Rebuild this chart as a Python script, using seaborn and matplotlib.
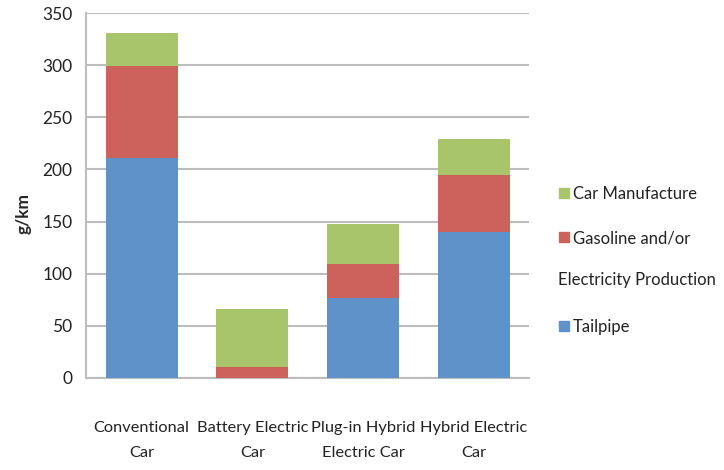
import pandas as pd
import seaborn as sns
import matplotlib.pyplot as plt
from matplotlib.patches import Patch

# data (g/km)
cars = ['Conventional\nCar', 'Battery Electric\nCar', 'Plug-in Hybrid\nElectric Car', 'Hybrid Electric\nCar']
tailpipe = [211, 0, 77, 140]
production = [88, 10, 32, 55]
manufacture = [32, 56, 39, 34]

df = pd.DataFrame({'Car': cars, 'Tailpipe': tailpipe,
                   'Production': production, 'Manufacture': manufacture})
df['lvl1'] = df['Tailpipe']
df['lvl2'] = df['lvl1'] + df['Production']
df['lvl3'] = df['lvl2'] + df['Manufacture']

blue = '#5E92C9'
red = '#CD615B'
green = '#A9C56B'

sns.set_style('white')
plt.rcParams['font.family'] = ['Lato', 'DejaVu Sans']

fig = plt.figure(figsize=(7.24, 4.70), dpi=100)
ax = fig.add_axes([0.119, 0.196, 0.612, 0.776])

# stacked bars: draw cumulative totals from the top down
for col, c in [('lvl3', green), ('lvl2', red), ('lvl1', blue)]:
    sns.barplot(data=df, x='Car', y=col, color=c, width=0.65,
                saturation=1, linewidth=0, ax=ax, zorder=3)

ax.set_ylim(0, 350)
ax.set_yticks(range(0, 351, 50))
ax.yaxis.grid(True, color='#BDBDBD', linewidth=1.5, zorder=0)
ax.set_axisbelow(True)
for s in ['top', 'right']:
    ax.spines[s].set_visible(False)
for s in ['left', 'bottom']:
    ax.spines[s].set_color('#BDBDBD')
    ax.spines[s].set_linewidth(1.5)

ax.tick_params(axis='y', length=6, width=1.5, color='#BDBDBD', labelsize=12.5,
               labelcolor='#222222', pad=4)
ax.tick_params(axis='x', length=0, labelsize=11.8, labelcolor='#222222', pad=31)
for lab in ax.get_xticklabels():
    lab.set_linespacing(2.05)
ax.set_xlabel('')
ax.set_ylabel('g/km', fontsize=12.5, fontweight='bold')
ax.yaxis.set_label_coords(-0.122, 0.452)

# the two-line legend entry is split so the square sits by the first line
handles = [Patch(color=green, label='Car Manufacture'),
           Patch(color=red, label='Gasoline and/or'),
           Patch(color='none', label=' '),
           Patch(color=blue, label='Tailpipe')]
fig.legend(handles=handles, loc='center left', bbox_to_anchor=(0.752, 0.4457),
           frameon=False, fontsize=12, handlelength=0.55, handleheight=0.55,
           handletextpad=0.25, labelspacing=1.71, labelcolor='#222222')
fig.text(0.771, 0.404, 'Electricity Production', fontsize=12, color='#222222',
         ha='left', va='center')

plt.savefig('out.png', dpi=100)
